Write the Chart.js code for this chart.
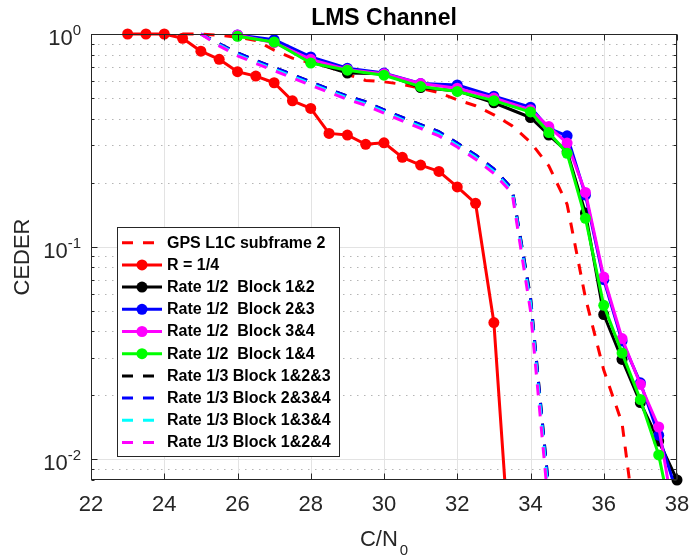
<!DOCTYPE html>
<html>
<head>
<meta charset="utf-8">
<script src="https://cdn.jsdelivr.net/npm/chart.js@4"></script>
<style>
  html, body { margin: 0; padding: 0; background: #fff; }
  canvas { display: block; }
</style>
</head>
<body>
<canvas id="grafica" width="689" height="559"></canvas>
<script>
// --- datos ---
const xGps = [24.5, 25, 25.5, 26, 26.5, 27, 27.5, 28, 28.5, 29, 29.5, 30, 30.5, 31, 31.5, 32, 32.5, 33, 33.5, 34, 34.5, 35, 35.5, 36, 36.5, 37];
const yGps = [1, 1, 0.986, 0.966, 0.933, 0.84, 0.77, 0.73, 0.70, 0.645, 0.605, 0.596, 0.58, 0.556, 0.53, 0.49, 0.46, 0.417, 0.37, 0.31, 0.24, 0.158, 0.0575, 0.0263, 0.0148, 0.0032];

const xR14 = [23, 23.5, 24, 24.5, 25, 25.5, 26, 26.5, 27, 27.5, 28, 28.5, 29, 29.5, 30, 30.5, 31, 31.5, 32, 32.5, 33, 33.5];
const yR14 = [1, 1, 1, 0.955, 0.83, 0.76, 0.665, 0.634, 0.59, 0.485, 0.447, 0.341, 0.335, 0.303, 0.308, 0.263, 0.242, 0.226, 0.191, 0.16, 0.044, 0.0025];

const xRate12 = [26, 27, 28, 29, 30, 31, 32, 33, 34, 34.5, 35, 35.5, 36, 36.5, 37, 37.5, 38];
const yRate12B12 = [0.98, 0.92, 0.74, 0.655, 0.65, 0.56, 0.54, 0.475, 0.405, 0.335, 0.28, 0.144, 0.048, 0.0295, 0.0185, 0.0122, 0.008];
const yRate12B23 = [0.99, 0.94, 0.78, 0.69, 0.655, 0.585, 0.576, 0.51, 0.453, 0.36, 0.332, 0.175, 0.07, 0.036, 0.0229, 0.013, 0.0069];
const yRate12B34 = [0.99, 0.91, 0.76, 0.68, 0.65, 0.585, 0.556, 0.50, 0.44, 0.367, 0.307, 0.18, 0.072, 0.037, 0.0225, 0.0142, 0.0045];
const yRate12B14 = [0.975, 0.917, 0.73, 0.676, 0.64, 0.566, 0.537, 0.486, 0.43, 0.344, 0.275, 0.136, 0.053, 0.0316, 0.0191, 0.0105, 0.004];

const xRate13 = [25, 25.5, 26, 26.5, 27, 27.5, 28, 28.5, 29, 29.5, 30, 30.5, 31, 31.5, 32, 32.5, 33, 33.5, 34, 34.5];
const yRate13B123 = [1, 0.90, 0.815, 0.75, 0.695, 0.645, 0.595, 0.55, 0.51, 0.48, 0.44, 0.405, 0.375, 0.347, 0.307, 0.27, 0.232, 0.187, 0.058, 0.0072];
const yRate13B234 = [1, 0.90, 0.815, 0.75, 0.695, 0.645, 0.595, 0.55, 0.51, 0.48, 0.44, 0.405, 0.375, 0.347, 0.307, 0.27, 0.232, 0.187, 0.057, 0.0071];
const yRate13B134 = [1, 0.89, 0.80, 0.737, 0.682, 0.632, 0.583, 0.54, 0.50, 0.47, 0.432, 0.396, 0.367, 0.339, 0.30, 0.263, 0.226, 0.182, 0.054, 0.0065];
const yRate13B124 = [1, 0.88, 0.79, 0.728, 0.672, 0.622, 0.574, 0.532, 0.492, 0.462, 0.425, 0.39, 0.36, 0.332, 0.294, 0.258, 0.221, 0.178, 0.050, 0.0058];

const xTicks = [22, 24, 26, 28, 30, 32, 34, 36, 38];
const yTicks = [0.01, 0.1, 1];
const yTickExp = ['-2', '-1', '0'];

const titulo = 'LMS Channel';
const etiquetaY = 'CEDER';

// --- series ---
const rayas = [11, 10];
const series = [
  { label: 'GPS L1C subframe 2', xs: xGps, ys: yGps, color: '#ff0000', dash: rayas, marker: false },
  { label: 'R = 1/4', xs: xR14, ys: yR14, color: '#ff0000', dash: [], marker: true },
  { label: 'Rate 1/2  Block 1&2', xs: xRate12, ys: yRate12B12, color: '#000000', dash: [], marker: true, abajo: 6 },
  { label: 'Rate 1/2  Block 2&3', xs: xRate12, ys: yRate12B23, color: '#0000ff', dash: [], marker: true },
  { label: 'Rate 1/2  Block 3&4', xs: xRate12, ys: yRate12B34, color: '#ff00ff', dash: [], marker: true },
  { label: 'Rate 1/2  Block 1&4', xs: xRate12, ys: yRate12B14, color: '#00ff00', dash: [], marker: true },
  { label: 'Rate 1/3 Block 1&2&3', xs: xRate13, ys: yRate13B123, color: '#000000', dash: rayas, marker: false },
  { label: 'Rate 1/3 Block 2&3&4', xs: xRate13, ys: yRate13B234, color: '#0000ff', dash: rayas, marker: false },
  { label: 'Rate 1/3 Block 1&3&4', xs: xRate13, ys: yRate13B134, color: '#00ffff', dash: rayas, marker: false },
  { label: 'Rate 1/3 Block 1&2&4', xs: xRate13, ys: yRate13B124, color: '#ff00ff', dash: rayas, marker: false }
];

const datasets = series.map((s, i) => ({
  label: s.label,
  data: s.xs.map((x, j) => ({ x: x, y: s.ys[j] })),
  borderColor: s.color,
  backgroundColor: s.color,
  borderWidth: 3,
  borderDash: s.dash,
  borderJoinStyle: 'round',
  pointRadius: s.marker ? 5.5 : 0,
  pointBorderWidth: 0,
  pointBackgroundColor: s.color,
  fill: false,
  tension: 0,
  order: series.length - i, // como matlab: el ultimo queda encima
  clip: { left: 6, top: 6, right: 6, bottom: s.abajo || 0 }
}));

const FUENTE = '"Liberation Sans", Arial, Helvetica, sans-serif';
const GRIS = '#262626';

// ejes, rejilla y textos al estilo matlab
const ejesMatlab = {
  id: 'ejesMatlab',
  beforeDatasetsDraw(chart) {
    const { ctx, chartArea: a, scales: { x, y } } = chart;
    ctx.save();
    ctx.lineWidth = 1;
    // rejilla menor punteada
    ctx.strokeStyle = '#b5b5b5';
    ctx.setLineDash([1.5, 5.5]);
    [0.001, 0.01, 0.1].forEach(dec => {
      for (let m = 2; m <= 9; m++) {
        const v = m * dec;
        if (v <= y.min || v >= y.max) continue;
        const py = Math.round(y.getPixelForValue(v)) + 0.5;
        ctx.beginPath(); ctx.moveTo(a.left, py); ctx.lineTo(a.right, py); ctx.stroke();
      }
    });
    // rejilla mayor
    ctx.setLineDash([]);
    ctx.strokeStyle = '#e3e3e3';
    xTicks.forEach(v => {
      const px = Math.round(x.getPixelForValue(v)) + 0.5;
      ctx.beginPath(); ctx.moveTo(px, a.top); ctx.lineTo(px, a.bottom); ctx.stroke();
    });
    yTicks.forEach(v => {
      const py = Math.round(y.getPixelForValue(v)) + 0.5;
      ctx.beginPath(); ctx.moveTo(a.left, py); ctx.lineTo(a.right, py); ctx.stroke();
    });
    ctx.restore();
  },
  afterDraw(chart) {
    const { ctx, chartArea: a, scales: { x, y } } = chart;
    ctx.save();
    // caja
    ctx.strokeStyle = GRIS;
    ctx.lineWidth = 1;
    const L = Math.round(a.left) + 0.5, R = Math.round(a.right) - 0.5;
    const T = Math.round(a.top) + 0.5, B = Math.round(a.bottom) - 0.5;
    ctx.strokeRect(L, T, R - L, B - T);
    // marcas hacia dentro
    ctx.beginPath();
    xTicks.forEach(v => {
      const px = Math.round(x.getPixelForValue(v)) + 0.5;
      ctx.moveTo(px, B); ctx.lineTo(px, B - 6);
      ctx.moveTo(px, T); ctx.lineTo(px, T + 6);
    });
    [0.001, 0.01, 0.1].forEach(dec => {
      for (let m = 1; m <= 9; m++) {
        const v = m * dec;
        if (v < y.min || v > y.max) continue;
        const len = m === 1 ? 6 : 3;
        const py = Math.round(y.getPixelForValue(v)) + 0.5;
        ctx.moveTo(L, py); ctx.lineTo(L + len, py);
        ctx.moveTo(R, py); ctx.lineTo(R - len, py);
      }
    });
    ctx.moveTo(L, T); ctx.lineTo(L + 6, T);
    ctx.moveTo(R, T); ctx.lineTo(R - 6, T);
    ctx.stroke();

    // etiquetas de x
    ctx.fillStyle = GRIS;
    ctx.font = '22px ' + FUENTE;
    ctx.textAlign = 'center';
    ctx.textBaseline = 'alphabetic';
    xTicks.forEach(v => {
      ctx.fillText(String(v), x.getPixelForValue(v), 511);
    });
    // etiquetas de y con exponente
    yTicks.forEach((v, i) => {
      const py = y.getPixelForValue(v);
      ctx.font = '15px ' + FUENTE;
      const wExp = ctx.measureText(yTickExp[i]).width;
      const xd = 81;
      ctx.textAlign = 'left';
      ctx.fillText(yTickExp[i], xd - wExp, py + 1);
      ctx.font = '22px ' + FUENTE;
      ctx.textAlign = 'right';
      ctx.fillText('10', xd - wExp, py + 11);
    });

    // titulos de ejes
    ctx.font = '22px ' + FUENTE;
    const wCN = ctx.measureText('C/N').width;
    ctx.font = '15px ' + FUENTE;
    const wSub = ctx.measureText('0').width;
    const x0 = (a.left + a.right) / 2 - (wCN + wSub + 2) / 2;
    ctx.textAlign = 'left';
    ctx.font = '22px ' + FUENTE;
    ctx.fillText('C/N', x0, 546);
    ctx.font = '15px ' + FUENTE;
    ctx.fillText('0', x0 + wCN + 2, 555);

    ctx.save();
    ctx.translate(23, (a.top + a.bottom) / 2);
    ctx.rotate(-Math.PI / 2);
    ctx.textAlign = 'center';
    ctx.textBaseline = 'middle';
    ctx.font = '22px ' + FUENTE;
    ctx.fillText(etiquetaY, 0, 0);
    ctx.restore();

    // titulo
    ctx.fillStyle = '#000';
    ctx.font = 'bold 23px ' + FUENTE;
    ctx.textAlign = 'center';
    ctx.fillText(titulo, (a.left + a.right) / 2, 25);

    // leyenda dentro del area
    const lx = 117, ly = 227, lw = 222, lh = 229, paso = 22.2;
    ctx.fillStyle = '#fff';
    ctx.fillRect(lx, ly, lw, lh);
    ctx.strokeStyle = GRIS;
    ctx.lineWidth = 1;
    ctx.strokeRect(lx + 0.5, ly + 0.5, lw, lh);
    series.forEach((s, i) => {
      const cy = ly + 15.7 + i * paso;
      ctx.strokeStyle = s.color;
      ctx.lineWidth = 3;
      ctx.setLineDash(s.dash);
      ctx.beginPath(); ctx.moveTo(lx + 5, cy); ctx.lineTo(lx + 45, cy); ctx.stroke();
      ctx.setLineDash([]);
      if (s.marker) {
        ctx.fillStyle = s.color;
        ctx.beginPath(); ctx.arc(lx + 25, cy, 5.5, 0, Math.PI * 2); ctx.fill();
      }
      ctx.fillStyle = '#000';
      ctx.font = 'bold 16px ' + FUENTE;
      ctx.textAlign = 'left';
      ctx.textBaseline = 'middle';
      ctx.fillText(s.label, lx + 50, cy + 0.5);
    });
    ctx.restore();
  }
};

new Chart(document.getElementById('grafica').getContext('2d'), {
  type: 'line',
  data: { datasets: datasets },
  options: {
    responsive: false,
    animation: false,
    devicePixelRatio: 1,
    layout: { padding: { left: 91, top: 34, right: 12, bottom: 79 } },
    scales: {
      x: { type: 'linear', min: 22, max: 38, display: false },
      y: { type: 'logarithmic', min: 0.008, max: 1, display: false }
    },
    plugins: {
      legend: { display: false },
      title: { display: false },
      tooltip: { enabled: false }
    }
  },
  plugins: [ejesMatlab]
});
</script>
</body>
</html>
